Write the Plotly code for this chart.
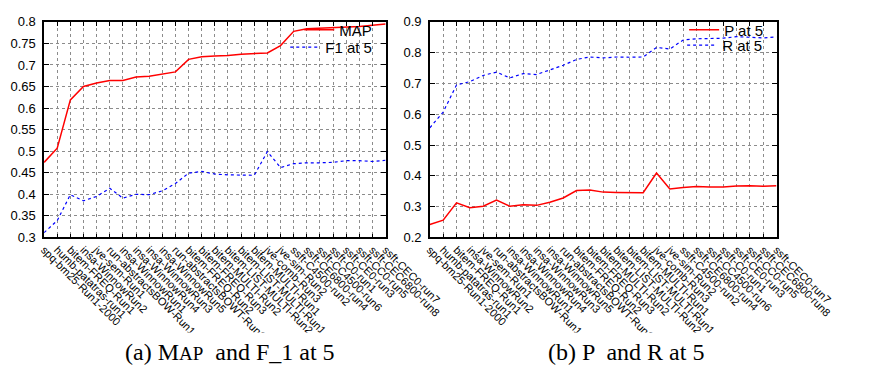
import plotly.graph_objects as go

runs = [
    "spq-bm25-Run1-2000", "humb-patatras-run1", "bitem-FREQ-Run1", "insa-WinnowRun2",
    "jve-sem-Run1", "run-abstractsBOW-Run1", "insa-WinnowRun1", "insa-WinnowRun4",
    "insa-WinnowRun3", "insa-WinnowRun5", "run-abstractsBOWT-Run1", "bitem-FREQ-Run2",
    "bitem-FREQ-Run3", "bitem-MULTI-Run2", "bitem-LIST-MULTI-Run2", "bitem-LIST-MULTI-Run1",
    "bitem-MULTI-Run1", "jve-comb-Run3", "jve-sim-Run2", "ssft-C4500-run2",
    "ssft-CE6800-run4", "ssft-CC4500-run6", "ssft-C0-run1", "ssft-CE0-run3",
    "ssft-CC0-run5", "ssft-CEC6800-run8", "ssft-CEC0-run7",
]

map_vals = [0.474, 0.507, 0.619, 0.650, 0.658, 0.664, 0.664, 0.672, 0.674, 0.679,
            0.684, 0.713, 0.719, 0.721, 0.722, 0.725, 0.727, 0.728, 0.745, 0.778,
            0.784, 0.785, 0.786, 0.787, 0.789, 0.792, 0.795]
f1_vals = [0.311, 0.339, 0.399, 0.385, 0.395, 0.414, 0.391, 0.400, 0.399, 0.408,
           0.425, 0.449, 0.453, 0.447, 0.445, 0.445, 0.444, 0.499, 0.462, 0.471,
           0.473, 0.473, 0.474, 0.478, 0.478, 0.476, 0.479]
p_vals = [0.242, 0.256, 0.312, 0.296, 0.301, 0.321, 0.301, 0.306, 0.304, 0.314,
          0.328, 0.352, 0.354, 0.347, 0.346, 0.345, 0.345, 0.409, 0.357, 0.362,
          0.365, 0.364, 0.364, 0.367, 0.368, 0.366, 0.368]
r_vals = [0.556, 0.607, 0.695, 0.706, 0.726, 0.737, 0.718, 0.732, 0.729, 0.744,
          0.759, 0.778, 0.786, 0.783, 0.786, 0.785, 0.786, 0.817, 0.812, 0.841,
          0.845, 0.846, 0.847, 0.852, 0.849, 0.848, 0.851]

left_ticks = [0.3, 0.35, 0.4, 0.45, 0.5, 0.55, 0.6, 0.65, 0.7, 0.75, 0.8]
right_ticks = [0.2, 0.3, 0.4, 0.5, 0.6, 0.7, 0.8, 0.9]

W, H = 894, 374
RED = "#ff0000"
BLUE = "#0000ff"

fig = go.Figure()
fig.add_trace(go.Scatter(x=runs, y=map_vals, name="MAP", mode="lines", showlegend=True,
                         line=dict(color=RED, width=1.5), xaxis="x", yaxis="y",
                         legend="legend"))
fig.add_trace(go.Scatter(x=runs, y=f1_vals, name="F1 at 5", mode="lines", showlegend=True,
                         line=dict(color=BLUE, width=1.2, dash="dot"), xaxis="x", yaxis="y",
                         legend="legend2"))
fig.add_trace(go.Scatter(x=runs, y=p_vals, name="P at 5", mode="lines", showlegend=True,
                         line=dict(color=RED, width=1.5), xaxis="x2", yaxis="y2",
                         legend="legend3"))
fig.add_trace(go.Scatter(x=runs, y=r_vals, name="R at 5", mode="lines", showlegend=True,
                         line=dict(color=BLUE, width=1.2, dash="dot"), xaxis="x2", yaxis="y2",
                         legend="legend4"))

ydom = [1 - 240 / H, 1 - 15.5 / H]
common_x = dict(type="category", categoryorder="array", categoryarray=runs,
                range=[0, len(runs) - 1], tickangle=45,
                tickfont=dict(family="Liberation Sans, Arial", size=11, color="black"),
                showgrid=True, gridcolor="#8c8c8c", griddash="dot", gridwidth=1,
                showline=True, linecolor="black", linewidth=1.5, mirror="allticks",
                ticks="inside", ticklen=4, tickcolor="black", zeroline=False,
                fixedrange=True)
common_y = dict(tickfont=dict(family="Liberation Sans, Arial", size=13, color="black"),
                showgrid=True, gridcolor="#8c8c8c", griddash="dot", gridwidth=1,
                showline=True, linecolor="black", linewidth=1.5, mirror="allticks",
                ticks="inside", ticklen=5, tickcolor="black", zeroline=False,
                tickmode="array", ticklabelstandoff=4)

legend_common = dict(yanchor="middle", xanchor="right", bgcolor="rgba(0,0,0,0)",
                     borderwidth=0, tracegroupgap=0, itemwidth=30, visible=True,
                     font=dict(family="Liberation Sans, Arial", size=15, color="black"))

fig.update_layout(
    width=W, height=H,
    showlegend=True,
    margin=dict(l=0, r=0, t=0, b=0),
    paper_bgcolor="white", plot_bgcolor="white",
    xaxis=dict(domain=[42 / W, 409 / W], anchor="y", **common_x),
    yaxis=dict(domain=ydom, anchor="x", range=[0.3, 0.8], tickvals=left_ticks,
               ticktext=[f"{v:g}" for v in left_ticks], **common_y),
    xaxis2=dict(domain=[456.5 / W, 829 / W], anchor="y2", **common_x),
    yaxis2=dict(domain=ydom, anchor="x2", range=[0.2, 0.9], tickvals=right_ticks,
                ticktext=[f"{v:g}" for v in right_ticks], **common_y),
    legend=dict(x=400 / W, y=1 - 24 / H, **legend_common),
    legend2=dict(x=400 / W, y=1 - 42 / H, **legend_common),
    legend3=dict(x=820 / W, y=1 - 24 / H, **legend_common),
    legend4=dict(x=820 / W, y=1 - 40 / H, **legend_common),
    shapes=[dict(type="rect", xref="paper", yref="paper", x0=0, x1=1,
                 y0=0, y1=1 - 339 / H, fillcolor="white", line=dict(width=0),
                 layer="above")],
    annotations=[
        dict(text="(a) M<span style='font-size:19px'>AP</span>  and F_1 at 5",
             xref="paper", yref="paper", x=242 / W, y=1 - 359 / H,
             xanchor="center", yanchor="middle", showarrow=False,
             font=dict(family="Liberation Serif, Times New Roman", size=24, color="black")),
        dict(text="(b) P  and R at 5",
             xref="paper", yref="paper", x=667 / W, y=1 - 359 / H,
             xanchor="center", yanchor="middle", showarrow=False,
             font=dict(family="Liberation Serif, Times New Roman", size=24, color="black")),
    ],
)

fig.write_html("out.html")
